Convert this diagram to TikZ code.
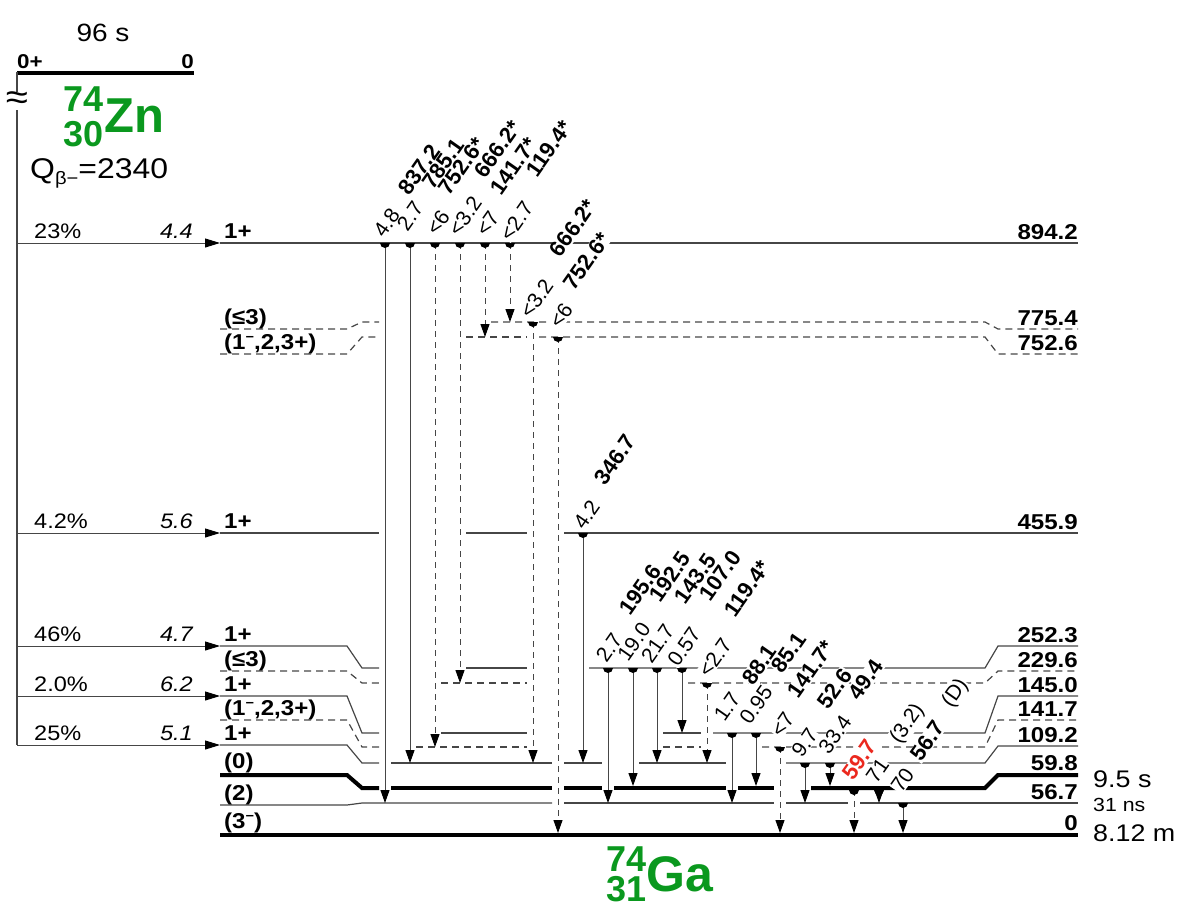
\documentclass[tikz,border=0pt]{standalone}
\usepackage{fontspec}
\setmainfont{Liberation Sans}[FakeStretch=1.12]
\newfontfamily\nucfont{Liberation Sans}
\usetikzlibrary{arrows.meta}
\definecolor{nucgreen}{RGB}{10,152,30}
\definecolor{redlab}{RGB}{235,40,30}
\definecolor{lvgray}{RGB}{70,70,70}
\newcommand\fsz[1]{\fontsize{#1}{#1}\selectfont}
\newcommand\supm{\raisebox{8pt}{\fsz{13}−}}
\newcommand\gLab[5]{}
\newcommand\gLabList{%
\gLab{a1}{gI}{386.5}{222.5}{4.8}%
\gLab{a2}{gE}{419.5}{170}{837.2}%
\gLab{b1}{gI}{410}{216}{2.7}%
\gLab{b2}{gE}{443.5}{164}{785.1}%
\gLab{c1}{gI}{438}{222.5}{<6}%
\gLab{c2}{gE}{461.5}{166.5}{752.6*}%
\gLab{d1}{gI}{465}{216}{<3.2}%
\gLab{d2}{gE}{497.5}{149.5}{666.2*}%
\gLab{e1}{gI}{487.5}{224}{<7}%
\gLab{e2}{gE}{513.5}{166.5}{141.7*}%
\gLab{f1}{gI}{516.5}{221}{<2.7}%
\gLab{f2}{gE}{549}{148.5}{119.4*}%
\gLab{g1}{gI}{536.5}{298.5}{<3.2}%
\gLab{g2}{gE}{573}{228.5}{666.2*}%
\gLab{h1}{gI}{561}{316}{<6}%
\gLab{h2}{gE}{586.5}{261.5}{752.6*}%
\gLab{k1}{gI}{586.5}{514.5}{4.2}%
\gLab{k2}{gE}{615}{460}{346.7}%
\gLab{m1}{gI}{609}{647.5}{2.7}%
\gLab{m2}{gE}{640.5}{590}{195.6}%
\gLab{n1}{gI}{634}{642}{19.0}%
\gLab{n2}{gE}{670}{577}{192.5}%
\gLab{o1}{gI}{657.5}{643.5}{21.7}%
\gLab{o2}{gE}{695.5}{578.5}{143.5}%
\gLab{p1}{gI}{684}{647}{0.57}%
\gLab{p2}{gE}{720.5}{576}{107.0}%
\gLab{q1}{gI}{715}{657.5}{<2.7}%
\gLab{q2}{gE}{747}{588.5}{119.4*}%
\gLab{r1}{gI}{727}{706.5}{1.7}%
\gLab{r2}{gE}{759.5}{664.5}{88.1}%
\gLab{s1}{gI}{756}{705}{0.95}%
\gLab{s2}{gE}{789}{652.5}{85.1}%
\gLab{t1}{gI}{782.5}{724.5}{<7}%
\gLab{t2}{gE}{811}{669}{141.7*}%
\gLab{u1}{gI}{804.5}{742.5}{9.7}%
\gLab{u2}{gE}{835}{688.5}{52.6}%
\gLab{v1}{gI}{835}{734.5}{33.4}%
\gLab{v2}{gE}{866}{680}{49.4}%
\gLab{w2}{gR}{859.5}{760}{59.7}%
\gLab{x1}{gI}{877.5}{770.5}{71}%
\gLab{x2}{gI}{907.5}{724}{(3.2)}%
\gLab{y1}{gI}{902.5}{780}{70}%
\gLab{y2}{gE}{927.5}{741}{56.7}%
\gLab{y3}{gI}{955.5}{693.5}{(D)}%
}
\newcommand\gdot[2]{\fill[black] (#1,#2) ++(-5pt,0pt) arc[start angle=180,end angle=360,radius=5pt] -- cycle;}
\newcommand\gam[5]{\coordinate (#1s) at (#2,#3); \coordinate (#1e) at (#2,#4); \draw[#5] (#1s) -- (#1e);}
\begin{document}
\begin{tikzpicture}[x=1pt,y=-1pt,
 lvthin/.style={draw=lvgray,line width=1.2pt},
 lvdash/.style={lvthin,dash pattern=on 7pt off 5pt},
 lvthick/.style={draw=black,line width=4pt},
 gsolid/.style={draw=lvgray,line width=1pt,-{Triangle[width=9pt,length=13pt,color=black]}},
 gdash/.style={gsolid,dash pattern=on 6pt off 5pt},
 barrow/.style={draw=lvgray,line width=1pt,-{Triangle[width=9pt,length=15pt,color=black]}},
 lvlab/.style={font=\fsz{21.5}\bfseries,inner sep=0pt},
 txt/.style={font=\fsz{21}, inner sep=0pt},
 itx/.style={font=\fsz{21}\itshape, inner sep=0pt},
 gI/.style={rotate=55,anchor=center,inner sep=0.6pt,font=\nucfont\fsz{21}},
 gE/.style={gI,font=\nucfont\fsz{22}\bfseries},
 gR/.style={gE,text=redlab}
]
\useasboundingbox (0,0) rectangle (1185,907);

% ---------- parent -----------
\draw[line width=4pt,black] (17,72.5) -- (194,72.5);
\draw[lvthin] (17,72) -- (17,745);
\node[anchor=base west,font=\fsz{20}\bfseries,inner sep=0pt] (pj) at (17,68) {0+};
\node[anchor=base east,font=\fsz{20}\bfseries,inner sep=0pt] (pe) at (194,68) {0};
\node[anchor=base,font=\fsz{25},inner sep=0pt] (phl) at (103,41.5) {96 s};
\node[fill=white,font=\fsz{36},inner sep=0.5pt] (brk) at (17,101) {≈};
\node[anchor=base west,font=\nucfont\fsz{36}\bfseries,text=nucgreen,inner sep=0pt] (zA) at (63,111.5) {74};
\node[anchor=base west,font=\nucfont\fsz{36}\bfseries,text=nucgreen,inner sep=0pt] (zZ) at (63,146) {30};
\node[anchor=base west,font=\nucfont\fsz{49}\bfseries,text=nucgreen,inner sep=0pt] (zS) at (104,132) {Zn};
\node[anchor=base west,font=\fsz{28.5},inner sep=0pt] (qv) at (30,178) {Q\raisebox{-6pt}{\fsz{18}β−}=2340};

% ---------- beta feeding -----------
\foreach \yy/\pc/\lf/\nm in {243/23\%/4.4/b1,533/4.2\%/5.6/b2,646/46\%/4.7/b3,696/2.0\%/6.2/b4,745/25\%/5.1/b5}{
  \coordinate (\nm s) at (17,\yy);
  \coordinate (\nm e) at (220,\yy);
  \draw[barrow] (\nm s) -- (\nm e);
  \node[txt,anchor=base west] (\nm p) at (34,\yy-4.5) {\pc};
  \node[itx,anchor=base east] (\nm f) at (193,\yy-4.5) {\lf};
}

% ---------- levels -----------
% 894.2
\draw[lvthin] (220,243) -- (1078,243);
% 775.4
\draw[lvdash] (220,329) -- (347,329) -- (362,322) -- (379,322);
\draw[lvdash] (491,322) -- (985,322) -- (998,329) -- (1078,329);
% 752.6
\draw[lvdash] (220,354) -- (347,354) -- (362,337) -- (379,337);
\draw[lvdash] (466,337) -- (527,337);
\draw[lvdash] (539,337) -- (985,337) -- (998,354) -- (1078,354);
% 455.9
\draw[lvthin] (220,533) -- (379,533);
\draw[lvthin] (466,533) -- (527,533);
\draw[lvthin] (564,533) -- (1078,533);
% 252.3
\draw[lvthin] (220,646) -- (347,646) -- (362,668) -- (379,668);
\draw[lvthin] (466,668) -- (527,668);
\draw[lvthin] (589,668) -- (985,668) -- (998,646) -- (1078,646);
% 229.6
\draw[lvdash] (220,671) -- (347,671) -- (362,683) -- (379,683);
\draw[lvdash] (441,683) -- (527,683);
\draw[lvdash] (688,683) -- (985,683) -- (998,671) -- (1078,671);
% 145.0
\draw[lvthin] (220,696) -- (347,696) -- (362,733) -- (379,733);
\draw[lvthin] (441,733) -- (527,733);
\draw[lvthin] (663,733) -- (701,733);
\draw[lvthin] (713,733) -- (985,733) -- (998,696) -- (1078,696);
% 141.7
\draw[lvdash] (220,720) -- (347,720) -- (362,747) -- (379,747);
\draw[lvdash] (416,747) -- (527,747);
\draw[lvdash] (663,747) -- (701,747);
\draw[lvdash] (762,747) -- (985,747) -- (998,720) -- (1078,720);
% 109.2
\draw[lvthin] (220,745) -- (347,745) -- (362,763) -- (379,763);
\draw[lvthin] (391,763) -- (552,763);
\draw[lvthin] (564,763) -- (602,763);
\draw[lvthin] (639,763) -- (726,763);
\draw[lvthin] (786,763) -- (985,763) -- (998,746) -- (1078,746);
% 59.8
\draw[lvthick] (220,775) -- (347,775) -- (362,788) -- (379,788);
\draw[lvthick] (391,788) -- (552,788);
\draw[lvthick] (564,788) -- (602,788);
\draw[lvthick] (614,788) -- (726,788);
\draw[lvthick] (738,788) -- (774,788);
\draw[lvthick] (811,788) -- (985,788) -- (998,775) -- (1078,775);
% 56.7
\draw[lvthin] (220,805) -- (347,805) -- (362,803) -- (552,803);
\draw[lvthin] (564,803) -- (774,803);
\draw[lvthin] (786,803) -- (848,803);
\draw[lvthin] (860,803) -- (1078,803);
% 0
\draw[lvthick] (220,835) -- (1078,835);

% ---------- level labels -----------
\node[lvlab,anchor=base west] (L1) at (224,238) {1+};
\node[lvlab,anchor=base west] (L2) at (224,324.5) {(≤3)};
\node[lvlab,anchor=base west] (L3) at (224,349.5) {(1\supm,2,3+)};
\node[lvlab,anchor=base west] (L4) at (224,528) {1+};
\node[lvlab,anchor=base west] (L5) at (224,641) {1+};
\node[lvlab,anchor=base west] (L6) at (224,666.5) {(≤3)};
\node[lvlab,anchor=base west] (L7) at (224,691) {1+};
\node[lvlab,anchor=base west] (L8) at (224,715.5) {(1\supm,2,3+)};
\node[lvlab,anchor=base west] (L9) at (224,740) {1+};
\node[lvlab,anchor=base west] (L10) at (224,768.5) {(0)};
\node[lvlab,anchor=base west] (L11) at (224,800) {(2)};
\node[lvlab,anchor=base west] (L12) at (224,828.5) {(3\supm)};

\node[lvlab,anchor=base east] (R1) at (1078,239) {894.2};
\node[lvlab,anchor=base east] (R2) at (1078,325) {775.4};
\node[lvlab,anchor=base east] (R3) at (1078,350) {752.6};
\node[lvlab,anchor=base east] (R4) at (1078,529) {455.9};
\node[lvlab,anchor=base east] (R5) at (1078,642) {252.3};
\node[lvlab,anchor=base east] (R6) at (1078,667) {229.6};
\node[lvlab,anchor=base east] (R7) at (1078,692) {145.0};
\node[lvlab,anchor=base east] (R8) at (1078,716) {141.7};
\node[lvlab,anchor=base east] (R9) at (1078,742) {109.2};
\node[lvlab,anchor=base east] (R10) at (1078,770) {59.8};
\node[lvlab,anchor=base east] (R11) at (1078,799) {56.7};
\node[lvlab,anchor=base east] (R12) at (1078,830) {0};

\node[anchor=west,font=\fsz{24},inner sep=0pt] (T1) at (1093,779) {9.5 s};
\node[anchor=west,font=\fsz{19},inner sep=0pt] (T2) at (1093,805) {31 ns};
\node[anchor=west,font=\fsz{24},inner sep=0pt] (T3) at (1093,833) {8.12 m};

% ---------- daughter name -----------
\node[anchor=base west,font=\nucfont\fsz{36}\bfseries,text=nucgreen,inner sep=0pt] (gA) at (606,871) {74};
\node[anchor=base west,font=\nucfont\fsz{36}\bfseries,text=nucgreen,inner sep=0pt] (gZ) at (606,901) {31};
\node[anchor=base west,font=\nucfont\fsz{50}\bfseries,text=nucgreen,inner sep=0pt] (gS) at (646,891) {Ga};

% ---------- gammas -----------
\gam{G1}{385}{243}{803}{gsolid}
\gam{G2}{410}{243}{763}{gsolid}
\gam{G3}{435}{243}{747}{gdash}
\gam{G4}{460}{243}{683}{gdash}
\gam{G5}{485}{243}{337}{gdash}
\gam{G6}{510}{243}{322}{gdash}
\gam{G7}{533}{322}{763}{gdash}
\gam{G8}{558}{337}{833}{gdash}
\gam{G9}{583}{533}{763}{gsolid}
\gam{G10}{608}{668}{803}{gsolid}
\gam{G11}{633}{668}{786}{gsolid}
\gam{G12}{657}{668}{763}{gsolid}
\gam{G13}{682}{668}{733}{gsolid}
\gam{G14}{707}{683}{763}{gdash}
\gam{G15}{732}{733}{803}{gsolid}
\gam{G16}{756}{733}{786}{gsolid}
\gam{G17}{780}{747}{833}{gdash}
\gam{G18}{805}{763}{803}{gsolid}
\gam{G19}{830}{763}{786}{gsolid}
\gam{G20}{854}{790}{833}{gdash}
\gam{G21}{879}{790}{803}{gsolid}
\gam{G22}{903}{803}{833}{gsolid}

% ---------- gamma labels (white knock-out, then text) -----------
\renewcommand\gLab[5]{\path[fill=white] node[#2,fill=white] (#1bg) at (#3,#4) {\phantom{#5}};}
\gLabList
\renewcommand\gLab[5]{\node[#2] (#1) at (#3,#4) {#5};}
\gLabList

% ---------- dots -----------
\foreach \xx/\yy in {385/243,410/243,435/243,460/243,485/243,510/243,533/322,558/337,583/533,
  608/668,633/668,657/668,682/668,707/683,732/733,756/733,780/747,805/763,830/763,854/790,879/790,903/803}{
  \gdot{\xx}{\yy}
}
\end{tikzpicture}
\end{document}
